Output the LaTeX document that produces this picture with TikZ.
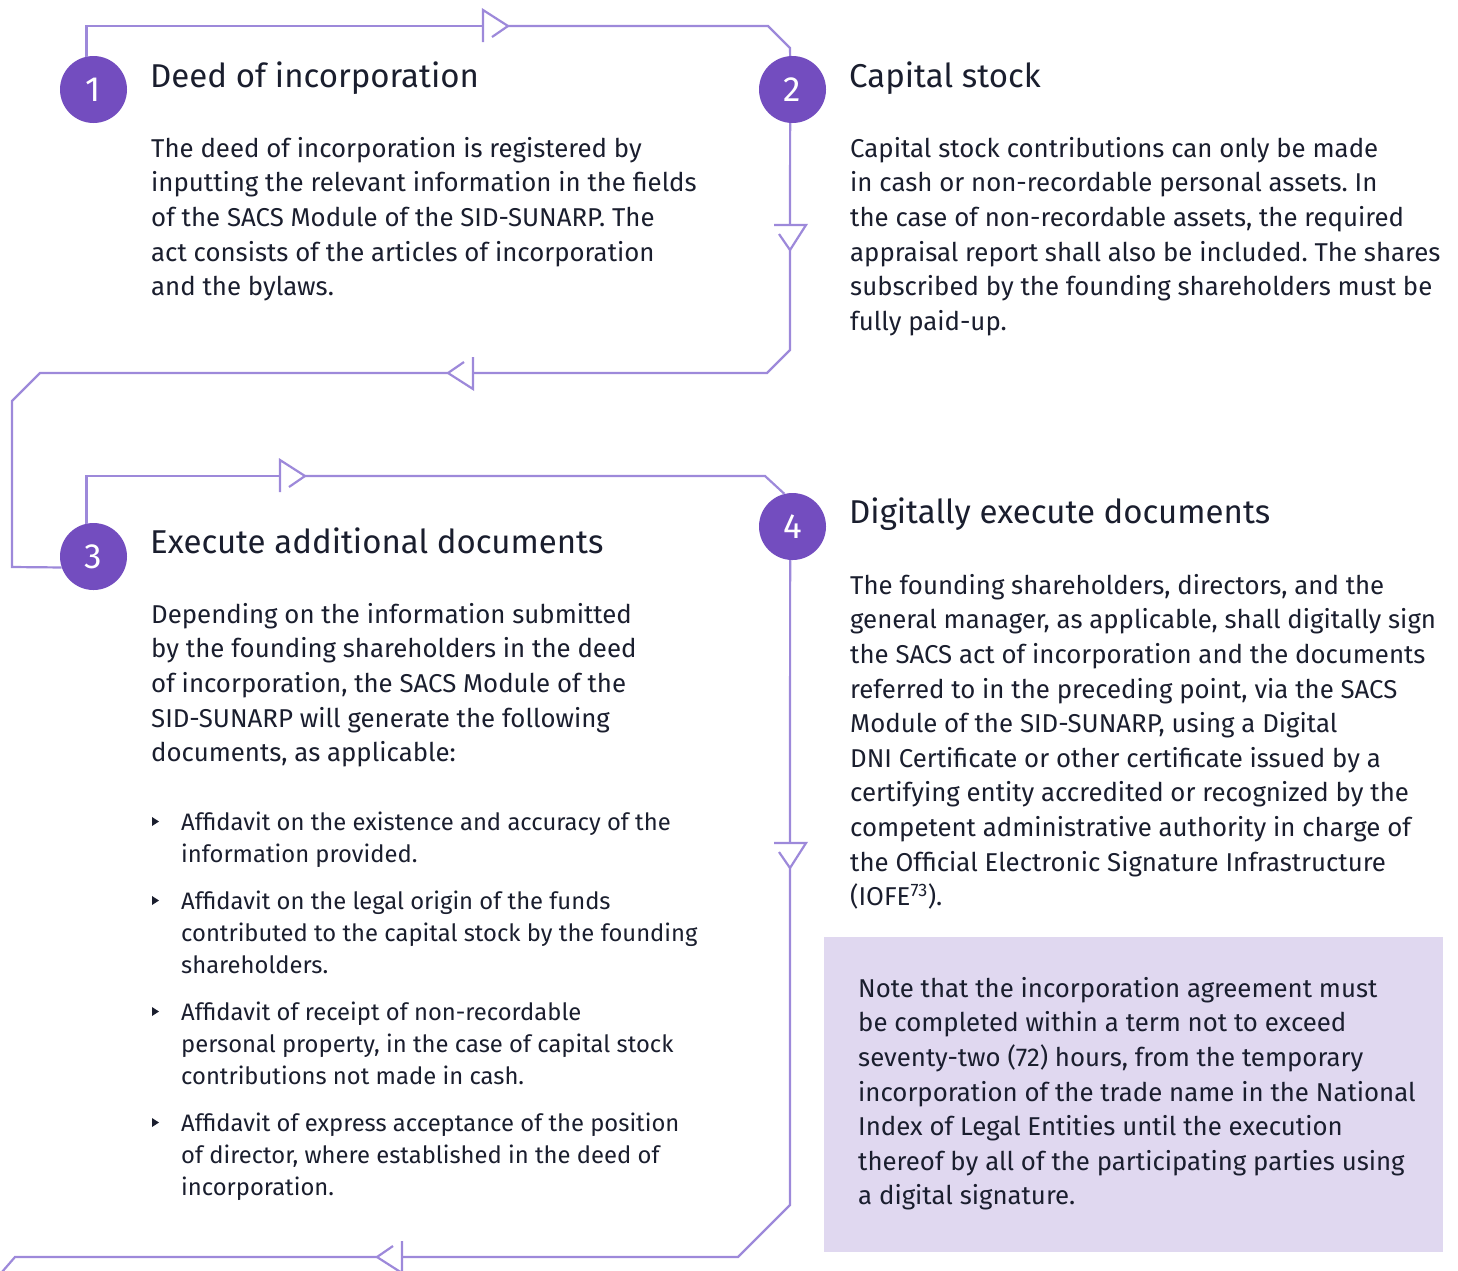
\documentclass[tikz,border=0pt]{standalone}
\usepackage{fontspec}
\setmainfont{Fira Sans}
\frenchspacing
\definecolor{lineC}{HTML}{9D89DA}
\definecolor{circC}{HTML}{734DBF}
\definecolor{noteC}{HTML}{E0D8F0}
\definecolor{ink}{HTML}{1A1E2E}
\begin{document}
\begin{tikzpicture}[x=1pt,y=-1pt,
  flow/.style={draw=lineC, line width=2.2pt},
  arrowhd/.pic={\draw[flow] (0,16) -- (0,-16) -- (25,0) -- (9,11);},
  stepcirc/.style={circle, fill=circC, minimum size=67pt, inner sep=0pt, text=white, font=\fontsize{35}{40}\selectfont},
  title/.style={anchor=base west, inner sep=0pt, text=ink, font=\fontsize{33}{40}\selectfont},
  body/.style={anchor=north west, inner sep=0pt, align=left, text=ink, font=\fontsize{25.8}{34.6}\selectfont},
  bullettxt/.style={anchor=north west, inner sep=0pt, align=left, text=ink, font=\fontsize{23.8}{32}\selectfont},
  bulletmark/.style={fill=ink}
]
\useasboundingbox (0,0) rectangle (1458,1270);

% note box
\node[fill=noteC, minimum width=619pt, minimum height=315pt, anchor=north west, inner sep=0pt] (notebox) at (824,937) {};

% circles
\node[stepcirc] (c1) at (93.5,89.5) {1};
\node[stepcirc] (c2) at (792.5,89.5) {2};
\node[stepcirc] (c3) at (93.5,556.5) {3};
\node[stepcirc] (c4) at (792.5,526.5) {4};

% loop 1 -> 2
\draw[flow] (c1.102) |- (483,26);
\pic at (483,26) {arrowhd};
\draw[flow] (508,26) -- (768,26) -- (790,48) -- (c2.94);

% loop 2 -> 3
\draw[flow] (c2.266) -- (790,225);
\pic[rotate=-90] at (790,225) {arrowhd};
\draw[flow] (790,250) -- (790,350) -- (767,373) -- (473,373);
\pic[rotate=180] at (473,373) {arrowhd};
\draw[flow] (448,373) -- (40,373) -- (12,401) -- (12,567) -- (c3.199);

% loop 3 -> 4
\draw[flow] (c3.102) |- (280,476);
\pic at (280,476) {arrowhd};
\draw[flow] (305,476) -- (765,476) -- (c4.104);

% loop 4 -> out
\draw[flow] (c4.266) -- (790,843);
\pic[rotate=-90] at (790,843) {arrowhd};
\draw[flow] (790,868) -- (790,1205) -- (738,1257) -- (402,1257);
\pic[rotate=180] at (402,1257) {arrowhd};
\draw[flow] (377,1257) -- (15,1257) -- (2,1272);

% titles
\node[title] (t1) at (150,87) {Deed of incorporation};
\node[title] (t2) at (849,87) {Capital stock};
\node[title] (t3) at (150,553) {Execute additional documents};
\node[title] (t4) at (849,523) {Digitally execute documents};

% bodies
\node[body] (b1) at (151,132.8) {\strut The deed of incorporation is registered by\\
inputting the relevant information in the fields\\
of the SACS Module of the SID-SUNARP. The\\
act consists of the articles of incorporation\\
and the bylaws.};

\node[body] (b2) at (850,132.8) {\strut Capital stock contributions can only be made\\
in cash or non-recordable personal assets. In\\
the case of non-recordable assets, the required\\
appraisal report shall also be included. The shares\\
subscribed by the founding shareholders must be\\
fully paid-up.};

\node[body] (b3) at (151,598.8) {\strut Depending on the information submitted\\
by the founding shareholders in the deed\\
of incorporation, the SACS Module of the\\
SID-SUNARP will generate the following\\
documents, as applicable:};

\node[bullettxt] (i1) at (181,807.6) {\strut Affidavit on the existence and accuracy of the\\
information provided.};
\node[bullettxt] (i2) at (181,886.6) {\strut Affidavit on the legal origin of the funds\\
contributed to the capital stock by the founding\\
shareholders.};
\node[bullettxt] (i3) at (181,997.6) {\strut Affidavit of receipt of non-recordable\\
personal property, in the case of capital stock\\
contributions not made in cash.};
\node[bullettxt] (i4) at (181,1108.6) {\strut Affidavit of express acceptance of the position\\
of director, where established in the deed of\\
incorporation.};

\fill[bulletmark] (152,817) -- (152,826) -- (159,821.5) -- cycle;
\fill[bulletmark] (152,896) -- (152,905) -- (159,900.5) -- cycle;
\fill[bulletmark] (152,1007) -- (152,1016) -- (159,1011.5) -- cycle;
\fill[bulletmark] (152,1118) -- (152,1127) -- (159,1122.5) -- cycle;

\node[body] (b4) at (850,569.8) {\strut The founding shareholders, directors, and the\\
general manager, as applicable, shall digitally sign\\
the SACS act of incorporation and the documents\\
referred to in the preceding point, via the SACS\\
Module of the SID-SUNARP, using a Digital\\
DNI Certificate or other certificate issued by a\\
certifying entity accredited or recognized by the\\
competent administrative authority in charge of\\
the Official Electronic Signature Infrastructure\\
(IOFE\textsuperscript{73}).};

\node[body] (nt) at (858,972.8) {\strut Note that the incorporation agreement must\\
be completed within a term not to exceed\\
seventy-two (72) hours, from the temporary\\
incorporation of the trade name in the National\\
Index of Legal Entities until the execution\\
thereof by all of the participating parties using\\
a digital signature.};
\end{tikzpicture}
\end{document}
